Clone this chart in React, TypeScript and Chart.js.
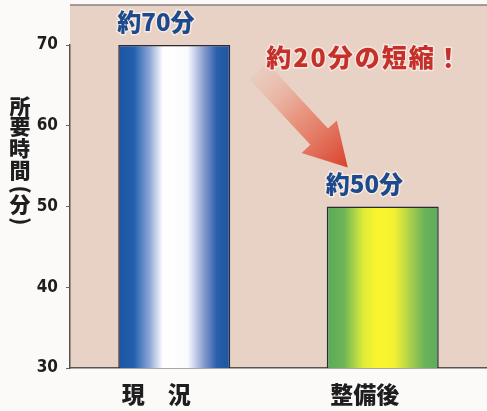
import React, { useEffect, useRef } from "react";
import { Chart, registerables } from "chart.js";

Chart.register(...registerables);

const categories = ["現　況", "整備後"];
const values = [70, 50];
const valueLabels = ["約70分", "約50分"];
const yTicks = [30, 40, 50, 60, 70];
const reductionLabel = "約20分の短縮！";
const yTitleChars = ["所", "要", "時", "間", "(", "分", ")"];

const barPct = 0.537;
const blueStops: [number, string][] = [
  [0, "#1b55a0"], [0.14, "#2360ad"], [0.28, "#8ea7d6"], [0.4, "#ffffff"],
  [0.62, "#fbfbff"], [0.76, "#8a9fd0"], [0.88, "#2a5eab"], [1, "#1b55a0"],
];
const greenStops: [number, string][] = [
  [0, "#5aa95a"], [0.15, "#6cb457"], [0.33, "#e0ec3a"], [0.45, "#fbf52c"],
  [0.6, "#f4f232"], [0.75, "#a8cf4c"], [0.88, "#68b25a"], [1, "#5fab5c"],
];
const barStops = [blueStops, greenStops];

const CJK = "'Noto Sans CJK JP', 'Noto Sans', sans-serif";

function drawCentered(ctx: CanvasRenderingContext2D, c: string, x: number, y: number, rot: number) {
  ctx.save();
  ctx.textAlign = "left";
  ctx.textBaseline = "alphabetic";
  const m = ctx.measureText(c);
  const cx = (m.actualBoundingBoxRight - m.actualBoundingBoxLeft) / 2;
  const cy = (m.actualBoundingBoxDescent - m.actualBoundingBoxAscent) / 2;
  ctx.translate(x, y);
  ctx.rotate(rot);
  ctx.fillText(c, -cx, -cy);
  ctx.restore();
}

const decor = {
  id: "decor",
  beforeDraw(chart: any) {
    const { ctx, chartArea, width, height } = chart;
    ctx.save();
    ctx.fillStyle = "#fbfaf9";
    ctx.fillRect(0, 0, width, height);
    ctx.fillStyle = "#e8d1c5";
    ctx.fillRect(chartArea.left, 5, width - chartArea.left, chartArea.bottom - 5);
    ctx.strokeStyle = "#8a8080";
    ctx.lineWidth = 1.5;
    ctx.beginPath();
    ctx.moveTo(chartArea.left, 5);
    ctx.lineTo(width, 5);
    ctx.stroke();
    ctx.restore();
  },
  afterDraw(chart: any) {
    const { ctx } = chart;
    const xs = chart.scales.x;
    const ys = chart.scales.y;
    const catW = xs.width / categories.length;
    const half = (catW * barPct) / 2;
    const barLeft = (i: number) => xs.getPixelForValue(i) - half;
    const barRight = (i: number) => xs.getPixelForValue(i) + half;
    ctx.save();

    // arrow
    const tx = barRight(0) + 28, ty = ys.getPixelForValue(values[0]) + 26;
    const px = barLeft(1) + 21, py = ys.getPixelForValue(values[1]) - 39;
    const dx = px - tx, dy = py - ty;
    const len = Math.hypot(dx, dy);
    const ux = dx / len, uy = dy / len;
    const nx = -uy, ny = ux;
    const headL = 42, headW = 24, shaftW = 12;
    const bx = px - ux * headL, by = py - uy * headL;
    const g = ctx.createLinearGradient(tx, ty, px, py);
    g.addColorStop(0, "rgba(240,175,155,0.15)");
    g.addColorStop(0.45, "rgba(232,125,100,0.7)");
    g.addColorStop(1, "#d9402a");
    ctx.fillStyle = g;
    ctx.beginPath();
    ctx.moveTo(tx + nx * shaftW, ty + ny * shaftW);
    ctx.lineTo(bx + nx * shaftW, by + ny * shaftW);
    ctx.lineTo(bx + nx * headW, by + ny * headW);
    ctx.lineTo(px, py);
    ctx.lineTo(bx - nx * headW, by - ny * headW);
    ctx.lineTo(bx - nx * shaftW, by - ny * shaftW);
    ctx.lineTo(tx - nx * shaftW, ty - ny * shaftW);
    ctx.closePath();
    ctx.fill();

    // value labels
    ctx.textBaseline = "middle";
    ctx.textAlign = "left";
    ctx.lineJoin = "round";
    ctx.font = `900 24px ${CJK}`;
    values.forEach((v, i) => {
      const x = barLeft(i) - 1;
      const y = ys.getPixelForValue(v) - 23;
      ctx.lineWidth = 3;
      ctx.strokeStyle = "rgba(255,245,240,0.7)";
      ctx.strokeText(valueLabels[i], x, y);
      ctx.fillStyle = "#1d4a8c";
      ctx.fillText(valueLabels[i], x, y);
    });

    // reduction label
    ctx.font = `900 25px ${CJK}`;
    (ctx as any).letterSpacing = "2px";
    const rx = barRight(0) + 36, ry = ys.getPixelForValue(values[0]) + 12;
    ctx.lineWidth = 3;
    ctx.strokeStyle = "rgba(255,240,235,0.7)";
    ctx.strokeText(reductionLabel, rx, ry);
    ctx.fillStyle = "#c4302a";
    ctx.fillText(reductionLabel, rx, ry);
    (ctx as any).letterSpacing = "0px";

    // vertical y title
    ctx.fillStyle = "#1e1e1e";
    ctx.font = `900 21px ${CJK}`;
    const ys0 = [106, 127.5, 148, 170, 190, 205, 221];
    yTitleChars.forEach((c, i) => {
      const rot = c === "(" || c === ")" ? Math.PI / 2 : 0;
      drawCentered(ctx, c, 20, ys0[i], rot);
    });
    ctx.restore();
  },
};

function gradientFor(ctx: any) {
  const chart = ctx.chart;
  const xs = chart.scales?.x;
  const i = ctx.dataIndex ?? 0;
  const stops = barStops[i % barStops.length];
  if (!xs || !chart.chartArea) return stops[0][1];
  const catW = xs.width / categories.length;
  const half = (catW * barPct) / 2;
  const cx = xs.getPixelForValue(i);
  const g = chart.ctx.createLinearGradient(cx - half, 0, cx + half, 0);
  stops.forEach(([o, c]) => g.addColorStop(o, c));
  return g;
}

export default function App() {
  const ref = useRef<HTMLCanvasElement | null>(null);
  useEffect(() => {
    document.body.style.margin = "0";
    const canvas = ref.current!;
    const chart = new Chart(canvas, {
      type: "bar",
      data: {
        labels: categories,
        datasets: [
          {
            data: values,
            backgroundColor: gradientFor as any,
            borderColor: "#2b2b38",
            borderWidth: 1.5,
            barPercentage: barPct,
            categoryPercentage: 1,
          },
        ],
      },
      options: {
        responsive: false,
        animation: false,
        devicePixelRatio: 1,
        layout: { padding: { top: 45, right: 0, left: 0, bottom: 0 } },
        plugins: { legend: { display: false }, tooltip: { enabled: false } },
        scales: {
          x: {
            grid: { display: false },
            border: { color: "#555", width: 1.5 },
            ticks: {
              color: "#1e1e1e",
              font: { family: CJK, size: 23, weight: "900" as any },
              padding: 4,
              labelOffset: -18,
            },
            afterFit: (s: any) => { s.height = 43; },
          },
          y: {
            min: 30,
            max: 70,
            afterBuildTicks: (s: any) => { s.ticks = yTicks.map((v) => ({ value: v })); },
            grid: { drawOnChartArea: false, tickLength: 4, color: "#666" },
            border: { color: "#555", width: 1.5 },
            ticks: {
              color: "#1e1e1e",
              padding: 8,
              font: { family: "'DejaVu Sans Condensed', 'Liberation Sans Narrow', sans-serif", size: 17, weight: "bold" as any },
            },
            afterFit: (s: any) => { s.width = 70; },
          },
        },
      },
      plugins: [decor],
    });
    return () => chart.destroy();
  }, []);
  return (
    <div style={{ width: 487, height: 411 }}>
      <canvas ref={ref} width={487} height={411} style={{ display: "block", width: 487, height: 411 }} />
    </div>
  );
}
